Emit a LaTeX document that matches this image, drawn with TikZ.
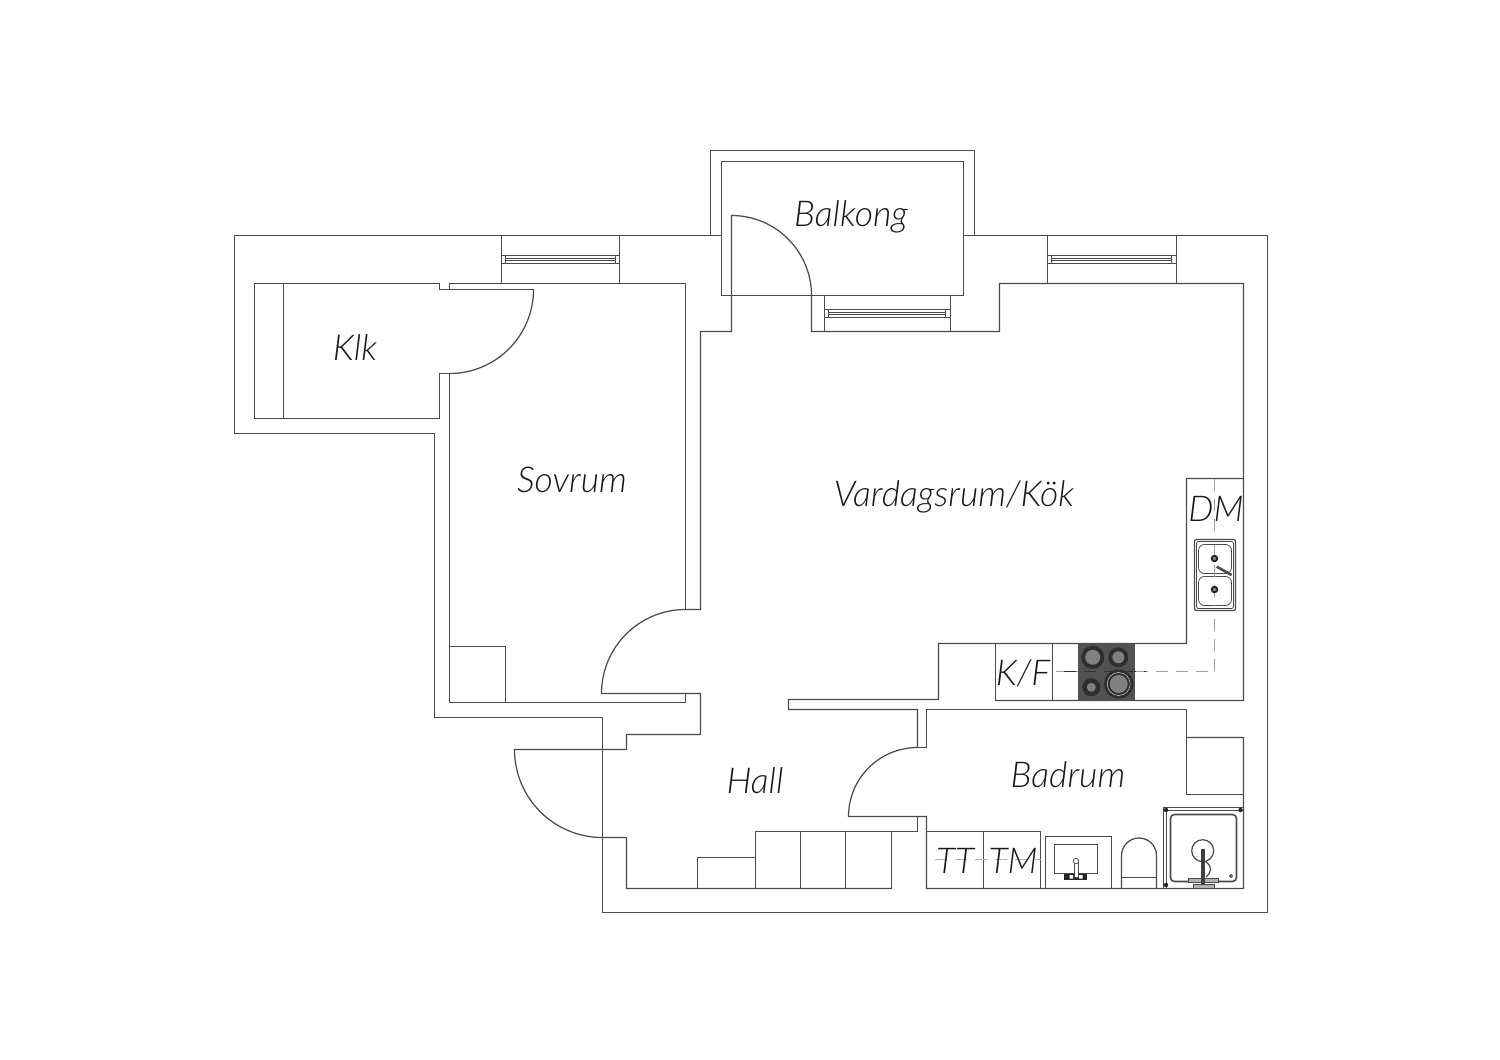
\documentclass[tikz,border=0pt]{standalone}
\usepackage{fontspec}
\setmainfont{Lato}[UprightFont=* Light,ItalicFont=* Light Italic]
\definecolor{planline}{HTML}{4A4A4A}
\begin{document}
\begin{tikzpicture}[x=0.5pt,y=-0.5pt]
   \tikzstyle{wall}=[draw=planline,line width=0.62pt,line join=miter]
   \tikzstyle{fine}=[draw=planline,line width=0.4pt]
   \tikzstyle{pipe}=[draw=gray!75,line width=0.55pt,dash pattern=on 6pt off 4pt]
   \tikzstyle{room}=[font=\fontsize{17.8}{20}\selectfont\itshape,text=black!90,inner sep=0pt]
   \tikzstyle{appliance}=[font=\fontsize{17.8}{20}\selectfont\itshape,text=black!90,inner sep=0pt]
   \tikzstyle{ring}=[fill=black!82]
   \tikzstyle{plate}=[fill=black!50]
   \useasboundingbox (0,0) rectangle (1500,1060);
   % outer walls
   \draw [wall] (721.5,235.5) -- (234.5,235.5) -- (234.5,433.5) -- (434.5,433.5) -- (434.5,717.5) -- (602.5,717.5) -- (602.5,912.5) -- (1267.5,912.5) -- (1267.5,235.5) -- (963.5,235.5);
   \draw [wall] (710.5,235.5) -- (710.5,150.5) -- (974.5,150.5) -- (974.5,235.5);
   \draw [wall] (721.5,161.5) rectangle (963.5,295.5);
   % klk and sovrum
   \draw [wall] (533.5,289.5) -- (439.5,289.5) -- (439.5,283.5) -- (254.5,283.5) -- (254.5,418.5) -- (439.5,418.5) -- (439.5,373.5) -- (449.5,373.5);
   \draw [wall] (283.5,283.5) -- (283.5,418.5);
   \draw [wall] (533.5,289.5) arc[start angle=0,end angle=90,radius=84];
   \draw [wall] (449.5,289.5) -- (449.5,283.5) -- (685.5,283.5) -- (685.5,609.5);
   \draw [wall] (449.5,373.5) -- (449.5,702.5) -- (685.5,702.5) -- (685.5,693.5);
   \draw [wall] (449.5,646.5) -- (505.5,646.5) -- (505.5,702.5);
   % doors and the walls between them
   \draw [wall] (685.5,609.5) arc[start angle=-90,end angle=-180,radius=84] -- (700.5,693.5) -- (700.5,734.5) -- (626.5,734.5) -- (626.5,749.5) -- (514.5,749.5) arc[start angle=180,end angle=90,radius=88] -- (626.5,837.5) -- (626.5,888.5) -- (891.5,888.5);
   \draw [wall] (685.5,609.5) -- (700.5,609.5) -- (700.5,331.5) -- (731.5,331.5) -- (731.5,215.5) arc[start angle=-90,end angle=0,radius=80] -- (811.5,331.5) -- (999.5,331.5) -- (999.5,283.5) -- (1243.5,283.5) -- (1243.5,700.5) -- (995.5,700.5);
   % windows
   \draw [wall] (501.5,235.5) -- (501.5,283.5) (619.5,235.5) -- (619.5,283.5);
   \draw [fine] (501.5,255.5) rectangle (619.5,263.5) (505.5,255.5) -- (505.5,263.5) (615.5,255.5) -- (615.5,263.5) (505.5,258.5) -- (615.5,258.5) (505.5,260.5) -- (615.5,260.5);
   \draw [wall] (1047.5,235.5) -- (1047.5,283.5) (1176.5,235.5) -- (1176.5,283.5);
   \draw [fine] (1047.5,255.5) rectangle (1176.5,263.5) (1051.5,255.5) -- (1051.5,263.5) (1171.5,255.5) -- (1171.5,263.5) (1051.5,258.5) -- (1171.5,258.5) (1051.5,260.5) -- (1171.5,260.5);
   \draw [wall] (824.5,295.5) -- (824.5,331.5) (950.5,295.5) -- (950.5,331.5);
   \draw [fine] (824.5,309.5) rectangle (950.5,317.5) (828.5,309.5) -- (828.5,317.5) (945.5,309.5) -- (945.5,317.5) (828.5,312.5) -- (945.5,312.5) (828.5,314.5) -- (945.5,314.5);
   % kok
   \draw [wall] (1243.5,478.5) -- (1186.5,478.5) -- (1186.5,643.5) -- (938.5,643.5) -- (938.5,699.5) -- (788.5,699.5) -- (788.5,709.5) -- (917.5,709.5) -- (917.5,747.5) arc[start angle=-90,end angle=-180,radius=69] -- (926.5,816.5) -- (926.5,888.5) -- (1243.5,888.5) -- (1243.5,737.5) -- (1186.5,737.5);
   \draw [wall] (917.5,816.5) -- (917.5,831.5) -- (755.5,831.5) -- (755.5,888.5);
   \draw [wall] (917.5,747.5) -- (926.5,747.5) -- (926.5,709.5) -- (1186.5,709.5) -- (1186.5,794.5) -- (1243.5,794.5);
   \draw [wall] (995.5,643.5) -- (995.5,700.5) (1052.5,643.5) -- (1052.5,700.5);
   \draw [pipe] (1214.5,478.5) -- (1214.5,671.5) -- (1052.5,671.5);
   \fill [black!68] (1078,643) rectangle (1135,700.5);
   \draw [pipe,draw=black!80] (1064,671.5) -- (1146,671.5);
   \fill [ring] (1092.7,657.3) circle [radius=11.5];
   \fill [plate] (1092.7,657.3) circle [radius=7.5];
   \fill [ring] (1118.3,657.3) circle [radius=10];
   \fill [plate] (1118.3,657.3) circle [radius=6];
   \fill [ring] (1091.3,687.3) circle [radius=9];
   \fill [plate] (1091.3,687.3) circle [radius=4.5];
   \fill [ring] (1118.7,684) circle [radius=14.5];
   \fill [plate] (1118.7,684) circle [radius=9];
   \draw [black!25,line width=0.3pt] (1118.7,684) circle [radius=11.5];
   % diskbank
   \fill [white] (1194.5,539.5) rectangle (1235.5,610.5);
   \draw [wall,rounded corners=1pt] (1194.5,539.5) rectangle (1235.5,610.5);
   \draw [fine,rounded corners=1pt] (1196.5,541.5) rectangle (1233.5,608.5);
   \draw [fine,rounded corners=3pt] (1198.5,544.5) rectangle (1231.5,573.5);
   \draw [fine,rounded corners=3pt] (1198.5,576.5) rectangle (1231.5,605.5);
   \draw [pipe] (1214.5,544.5) -- (1214.5,605.5);
   \draw [black!85,fill=gray,line width=0.9pt] (1214.5,558.5) circle [radius=2.8];
   \draw [black!85,fill=gray,line width=0.9pt] (1214.5,589.5) circle [radius=2.8];
   \draw [black!70,line width=1.3pt] (1216.7,566.7) -- (1231.7,575);
   % skap
   \draw [wall] (800.5,831.5) -- (800.5,888.5) (845.5,831.5) -- (845.5,888.5) (891.5,831.5) -- (891.5,888.5);
   \draw [wall] (697.5,888.5) -- (697.5,857.5) -- (755.5,857.5);
   % badrum
   \draw [wall] (926.5,831.5) -- (1040.5,831.5) -- (1040.5,888.5) (983.5,831.5) -- (983.5,888.5);
   \draw [pipe,draw=gray!60] (935,859.5) -- (1040.5,859.5);
   \draw [wall] (1045.5,888.5) -- (1045.5,836.5) -- (1111.5,836.5) -- (1111.5,888.5);
   \draw [wall] (1054.5,844.5) rectangle (1097.5,873.5);
   \fill [black!85] (1064,874) rectangle (1087,879.5);
   \fill [white] (1069.5,875) rectangle (1073,878.5) (1079,875) rectangle (1082.5,878.5);
   \fill [white] (1074,861) rectangle (1078,877);
   \draw [fine] (1074,863) -- (1074,877) -- (1078,877) -- (1078,863);
   \draw [fine,fill=white] (1076,861) circle [radius=2.8];
   \draw [wall] (1121.5,888.5) -- (1121.5,855.5) arc[start angle=180,end angle=360,radius=17.5] -- (1156.5,888.5);
   \draw [fine] (1121.5,877.5) -- (1156.5,877.5);
   \draw [wall] (1163.5,888.5) -- (1163.5,807.5) -- (1243.5,807.5);
   \draw [wall] (1166.5,888.5) -- (1166.5,810.5) -- (1243.5,810.5);
   \draw [wall,line width=0.8pt,rounded corners=2pt] (1170.5,814.5) rectangle (1236.5,881.5);
   \fill [black!85] (1166,810) circle [radius=2.2] (1240.5,810) circle [radius=2.2] (1166,885) circle [radius=2.2];
   \draw [wall] (1202.7,850.7) circle [radius=11];
   \draw [wall] (1206,862) .. controls (1212,866) and (1212,872) .. (1206,877);
   \draw [fine,fill=gray!60] (1188,878) rectangle (1218,882.5);
   \draw [fine,fill=gray!60] (1193,884) rectangle (1214,888);
   \draw [black!75,line width=1.6pt] (1203,849) -- (1203,885);
   \draw [black!70,fill=gray] (1231,876) circle [radius=1.6];
   % labels
   \node (balkong) [room] at (851,216.5) {Balkong};
   \node (klk) [room] at (355,348) {Klk};
   \node (sovrum) [room] at (572,479.5) {Sovrum};
   \node (vardagsrum) [room] at (954,496.5) {Vardagsrum/Kök};
   \node (hall) [room] at (755,781) {Hall};
   \node (badrum) [room] at (1068,774.5) {Badrum};
   \node (dm) [appliance] at (1216,509) {DM};
   \node (kf) [appliance] at (1023,673) {K/F};
   \node (tt) [appliance] at (955,861) {TT};
   \node (tm) [appliance] at (1013,861) {TM};
\end{tikzpicture}
\end{document}
